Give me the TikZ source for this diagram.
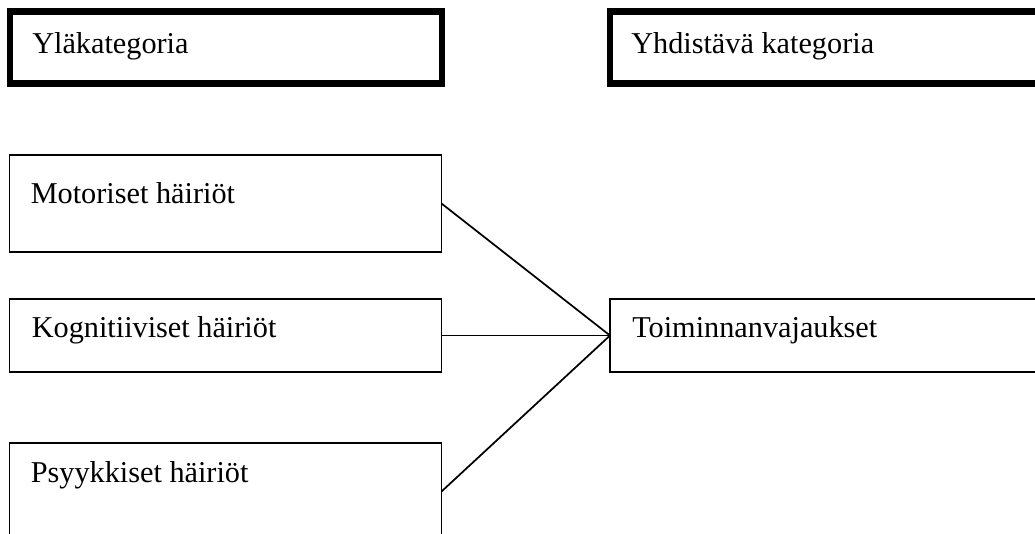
\documentclass[tikz,border=0pt]{standalone}
\usepackage{fontspec}
\setmainfont{Liberation Serif}
\usetikzlibrary{positioning}
\tikzstyle{catbox} = [rectangle, draw, line width=4.9pt, minimum width=324pt, minimum height=54pt, inner sep=0pt, outer sep=0pt, anchor=north west]
\tikzstyle{block} = [rectangle, draw, line width=1.4pt, minimum width=324pt, inner sep=0pt, outer sep=0pt, anchor=north west]
\tikzstyle{caption} = [anchor=base west, inner sep=0pt, font=\fontsize{22.7}{27}\selectfont]
\tikzstyle{link} = [line width=1.3pt]

\begin{document}
\begin{tikzpicture}[x=0.75pt, y=-0.75pt]
    \clip (0,0) rectangle (1035,533);

    % Category headers
    \node (upper) [catbox] at (10,11.5) {};
    \node (upper_text) [caption] at ([shift={(22,42)}]upper.north west) {Yläkategoria};

    \node (joint) [catbox] at (610,11.5) {};
    \node (joint_text) [caption] at ([shift={(21,42)}]joint.north west) {Yhdistävä kategoria};

    % Subcategories
    \node (motor) [block, minimum height=72.75pt] at (9.5,155) {};
    \node (motor_text) [caption] at ([shift={(21,48)}]motor.north west) {Motoriset häiriöt};

    \node (cogn) [block, minimum height=54.75pt] at (9.5,299) {};
    \node (cogn_text) [caption] at ([shift={(22,38)}]cogn.north west) {Kognitiiviset häiriöt};

    \node (psych) [block, minimum height=72.75pt] at (9.5,443) {};
    \node (psych_text) [caption] at ([shift={(21,39)}]psych.north west) {Psyykkiset häiriöt};

    % Combining category
    \node (deficit) [block, minimum height=54.75pt] at (610,299) {};
    \node (deficit_text) [caption] at ([shift={(22,38)}]deficit.north west) {Toiminnanvajaukset};

    % ==== Links
    \draw [link] (motor.east) -- (deficit.west);
    \draw [link] (cogn.east) -- (deficit.west);
    \draw [link] (psych.east) -- (deficit.west);

\end{tikzpicture}
\end{document}
